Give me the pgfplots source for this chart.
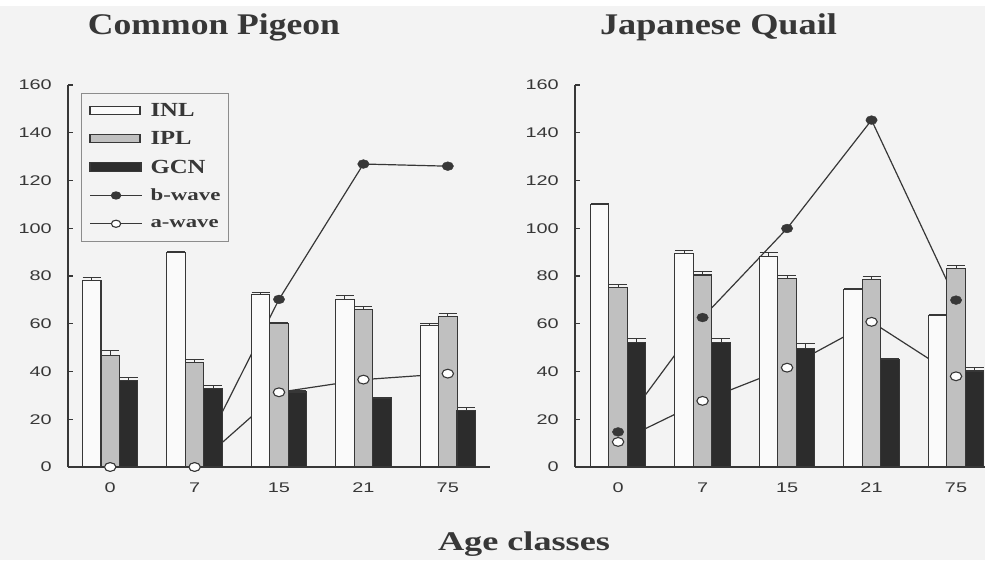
\documentclass[border=0pt]{standalone}
\usepackage{pgfplots}
\pgfplotsset{compat=1.18}
\usepackage{pgfplotstable}
\usepackage{graphicx}
\usepackage{fontspec}
\setmainfont{Liberation Serif}
\newfontfamily\ticksans{Liberation Sans}

\definecolor{bg}{HTML}{F3F3F3}
\definecolor{ink}{HTML}{373737}
\definecolor{inlfill}{HTML}{FAFAFA}
\definecolor{iplfill}{HTML}{C0C0C0}
\definecolor{gcnfill}{HTML}{2C2C2C}
\definecolor{frame}{HTML}{8C8C8C}

% stretched tick numbers and bold serif legend texts
\newcommand\tk[1]{\scalebox{1.42}[1]{#1}}
\newcommand\lgbig[2]{\hspace{8pt}\resizebox{#2}{\height}{\fontsize{20}{20}\selectfont\bfseries #1}}
\newcommand\lgsmall[2]{\hspace{8pt}\resizebox{#2}{\height}{\fontsize{17}{17}\selectfont\bfseries #1}}

% layer thicknesses (mean, upper error)
\pgfplotstableread{
x inl inle ipl iple gcn gcne
0 78.3 1.1 46.8 1.8 36.1 1.2
1 89.7 0.5 43.6 1.4 32.8 1.4
2 72.4 0.7 60.1 0.6 31.4 0.5
3 70.3 1.5 66.0 1.4 28.9 0.3
4 59.1 1.1 62.9 1.4 23.5 1.4
}\pigeonbars
\pgfplotstableread{
x b a
0 0 0
1 0 0
2 70.2 31.3
3 126.9 36.6
4 126.0 39.1
}\pigeonwaves
\pgfplotstableread{
x inl inle ipl iple gcn gcne
0 110.1 0.3 75.2 1.4 52.3 1.4
1 89.4 1.2 80.4 1.4 52.3 1.4
2 88.0 1.9 79.0 1.2 49.6 2.1
3 74.3 0.3 78.5 1.2 45.0 0.3
4 63.6 0.3 83.1 1.3 40.2 1.4
}\quailbars
\pgfplotstableread{
x b a
0 14.7 10.5
1 62.6 27.7
2 99.9 41.6
3 145.3 60.8
4 69.9 38.0
}\quailwaves

% offset of the outer bars from the group centre, in axis units
\def\off{0.219}

\pgfplotsset{
  panel/.style={
    scale only axis, height=382pt, clip=false,
    axis x line*=bottom, axis y line*=left,
    axis line style={ink, line width=1.2pt, -},
    ymin=0, ymax=160, ytick={0,20,...,160},
    yticklabels={\tk{0},\tk{20},\tk{40},\tk{60},\tk{80},\tk{100},\tk{120},\tk{140},\tk{160}},
    xtick={0,...,4}, xticklabels={\tk{0},\tk{7},\tk{15},\tk{21},\tk{75}},
    tick align=inside, major tick length=5pt,
    tick style={ink, line width=1.1pt},
    x tick style={draw=none},
    tick label style={font=\ticksans\fontsize{14}{14}\selectfont, text=ink},
    yticklabel style={inner sep=0pt, xshift=-16pt},
    xticklabel style={inner sep=0pt, yshift=-16pt},
  },
  wave/.style={ink, line width=1.2pt, forget plot},
  bars/.style={ybar, bar width=18.5pt, bar shift=0pt, draw=ink, line width=1.1pt, forget plot,
    error bars/y dir=plus, error bars/y explicit,
    error bars/error bar style={ink, line width=1pt},
    error bars/error mark options={rotate=90, mark size=9pt, ink, line width=1pt}},
  bmark/.style={only marks, mark=*, mark size=4.4pt, forget plot,
    mark options={draw=ink, fill=ink, xscale=1.3}},
  amark/.style={only marks, mark=*, mark size=4.4pt, forget plot,
    mark options={draw=ink, fill=white, line width=1.1pt, xscale=1.3}},
}

\begin{document}
\begin{tikzpicture}
\useasboundingbox (0,0) rectangle (985pt,560pt);
\fill[bg] (0,0) rectangle (985pt,560pt);
\fill[white] (0,554pt) rectangle (985pt,560pt);

% Common Pigeon
\begin{axis}[panel, width=422pt, xmin=-0.5, xmax=4.5,
  at={(68pt,93pt)}, anchor=south west,
  legend cell align=left,
  legend style={at={(axis description cs:0.031,0.979)}, anchor=north west,
    draw=frame, line width=0.8pt, fill=none, text=ink,
    inner xsep=8pt, inner ysep=3pt, row sep=0pt,
    nodes={inner sep=0pt, minimum height=28.3pt}},
]
\addplot[wave] table[x=x, y=b]{\pigeonwaves};
\addplot[wave] table[x=x, y=a]{\pigeonwaves};
\addplot[bars, fill=inlfill] table[x expr=\thisrow{x}-\off, y=inl, y error=inle]{\pigeonbars};
\addplot[bars, fill=iplfill] table[x=x, y=ipl, y error=iple]{\pigeonbars};
\addplot[bars, fill=gcnfill] table[x expr=\thisrow{x}+\off, y=gcn, y error=gcne]{\pigeonbars};
\addplot[bmark] table[x=x, y=b]{\pigeonwaves};
\addplot[amark] table[x=x, y=a]{\pigeonwaves};

\addlegendimage{legend image code/.code={\draw[draw=ink, fill=inlfill, line width=1.1pt] (0pt,-4pt) rectangle (50pt,4pt);}}
\addlegendentry{\lgbig{INL}{44pt}}
\addlegendimage{legend image code/.code={\draw[draw=ink, fill=iplfill, line width=1.1pt] (0pt,-4pt) rectangle (50pt,4pt);}}
\addlegendentry{\lgbig{IPL}{41pt}}
\addlegendimage{legend image code/.code={\draw[draw=ink, fill=gcnfill, line width=1.1pt] (0pt,-4.5pt) rectangle (51pt,4.5pt);}}
\addlegendentry{\lgbig{GCN}{55pt}}
\addlegendimage{legend image code/.code={
  \draw[ink, line width=1.1pt] (0pt,0pt) -- (52pt,0pt);
  \draw[ink, fill=ink, line width=1.1pt] plot[mark=*, mark size=3.6pt, mark options={xscale=1.3}] coordinates {(26pt,0pt)};}}
\addlegendentry{\lgsmall{b-wave}{70pt}}
\addlegendimage{legend image code/.code={
  \draw[ink, line width=1.1pt] (0pt,0pt) -- (52pt,0pt);
  \draw[ink, fill=white, line width=1.1pt] plot[mark=*, mark size=3.6pt, mark options={xscale=1.3}] coordinates {(26pt,0pt)};}}
\addlegendentry{\lgsmall{a-wave}{68pt}}
\end{axis}

% Japanese Quail
\begin{axis}[panel, width=410pt, xmin=-0.51, xmax=4.343,
  at={(575pt,93pt)}, anchor=south west]
\addplot[wave] table[x=x, y=b]{\quailwaves};
\addplot[wave] table[x=x, y=a]{\quailwaves};
\addplot[bars, fill=inlfill] table[x expr=\thisrow{x}-\off, y=inl, y error=inle]{\quailbars};
\addplot[bars, fill=iplfill] table[x=x, y=ipl, y error=iple]{\quailbars};
\addplot[bars, fill=gcnfill] table[x expr=\thisrow{x}+\off, y=gcn, y error=gcne]{\quailbars};
\addplot[bmark] table[x=x, y=b]{\quailwaves};
\addplot[amark] table[x=x, y=a]{\quailwaves};
\end{axis}

% panel titles and shared axis title
\node[anchor=base, text=ink, inner sep=0pt] at (214pt,525pt)
  {\resizebox{252pt}{\height}{\fontsize{30}{30}\selectfont\bfseries Common Pigeon}};
\node[anchor=base, text=ink, inner sep=0pt] at (718.5pt,525pt)
  {\resizebox{237pt}{\height}{\fontsize{30}{30}\selectfont\bfseries Japanese Quail}};
\node[anchor=base, text=ink, inner sep=0pt] at (524pt,10pt)
  {\resizebox{172pt}{\height}{\fontsize{27}{27}\selectfont\bfseries Age classes}};
\end{tikzpicture}
\end{document}
